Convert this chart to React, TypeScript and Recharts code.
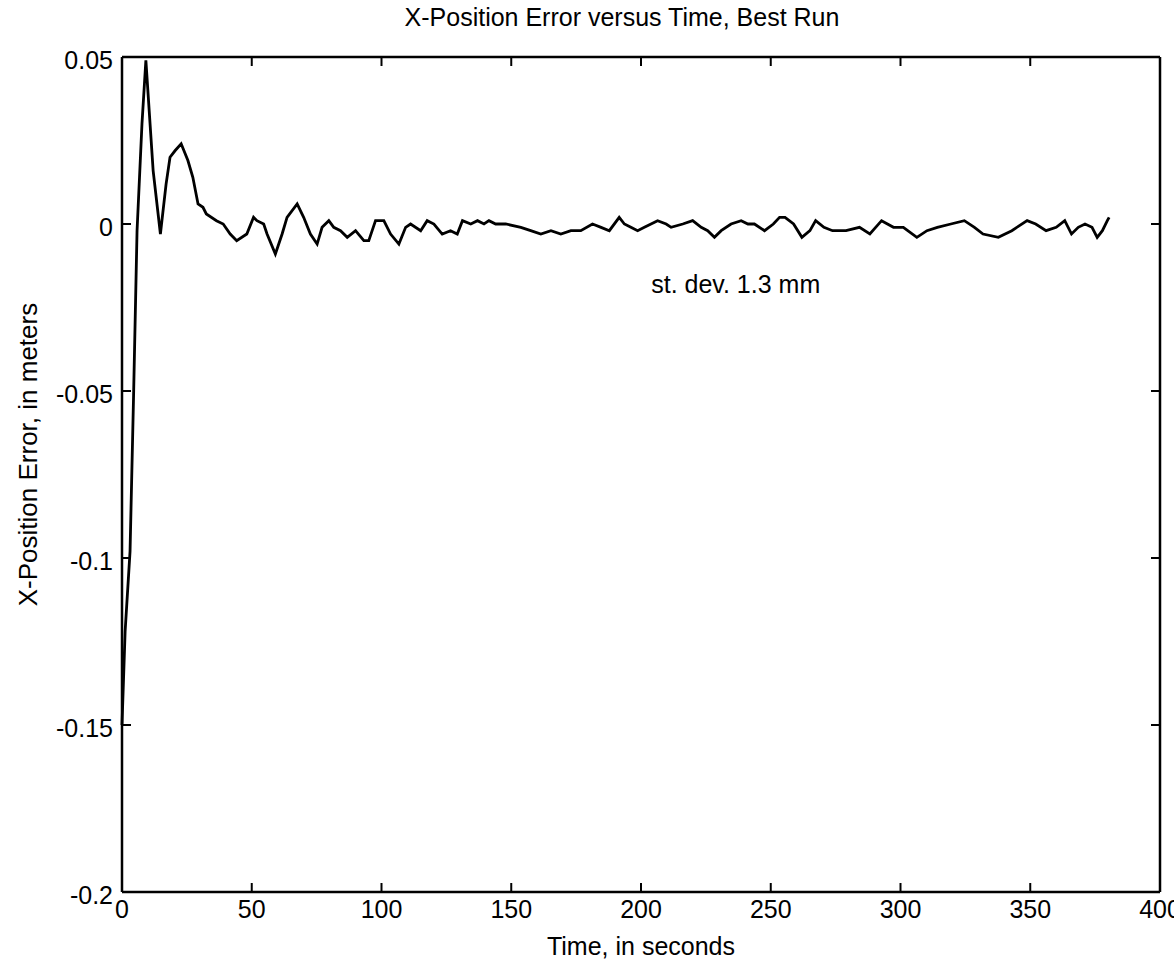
import { LineChart, Line, XAxis, YAxis, ReferenceDot } from "recharts";

// time in seconds and x-position error in meters
const time = [
  0, 1.2, 3.1, 4.5, 5.8, 7.7, 9.2, 12, 14.8, 17, 18.5, 20.5, 22.8, 25.4, 27.3,
  29.3, 31.2, 32.5, 36.4, 39, 41.7, 44.2, 48.1, 50.7, 52, 54.6, 55.9, 59.1,
  61.7, 63.6, 67.5, 70, 72.6, 75.2, 77.1, 79.7, 81.6, 84.2, 86.8, 90, 93.2,
  95.1, 97.7, 100.9, 103.5, 106.7, 109.3, 111.2, 115.1, 117.6, 120.2, 123.4,
  126.6, 129.2, 131.2, 134.4, 137, 139.5, 141.4, 144, 147.9, 153.7, 157.5,
  161.4, 165.3, 169.1, 173, 176.8, 181.3, 184.6, 187.8, 191.6, 193.6, 196.1,
  198.7, 201.3, 206.4, 209.7, 211.6, 216.1, 219.9, 223.2, 225.7, 228.3, 230.9,
  234.7, 238.6, 241.2, 243.7, 247.6, 251, 253.4, 255.5, 258.8, 262, 265.1,
  267.3, 270.5, 273.8, 279, 284.2, 288.2, 292.7, 297.3, 301.1, 306.3, 310.2,
  314.2, 319.4, 324.6, 328.5, 331.8, 337.7, 342.9, 348.8, 352.1, 356.1, 360,
  363.3, 365.9, 368.5, 371.1, 373.8, 375.8, 377.8, 379.7, 380.4,
];

const xError = [
  -0.15, -0.122, -0.098, -0.05, -0.002, 0.03, 0.049, 0.016, -0.003, 0.012,
  0.02, 0.022, 0.024, 0.019, 0.014, 0.006, 0.005, 0.003, 0.001, 0.0, -0.003,
  -0.005, -0.003, 0.002, 0.001, 0.0, -0.003, -0.009, -0.003, 0.002, 0.006,
  0.002, -0.003, -0.006, -0.001, 0.001, -0.001, -0.002, -0.004, -0.002,
  -0.005, -0.005, 0.001, 0.001, -0.003, -0.006, -0.001, 0.0, -0.002, 0.001,
  0.0, -0.003, -0.002, -0.003, 0.001, 0.0, 0.001, 0.0, 0.001, 0.0, 0.0,
  -0.001, -0.002, -0.003, -0.002, -0.003, -0.002, -0.002, 0.0, -0.001,
  -0.002, 0.002, 0.0, -0.001, -0.002, -0.001, 0.001, 0.0, -0.001, 0.0, 0.001,
  -0.001, -0.002, -0.004, -0.002, 0.0, 0.001, 0.0, 0.0, -0.002, 0.0, 0.002,
  0.002, 0.0, -0.004, -0.002, 0.001, -0.001, -0.002, -0.002, -0.001, -0.003,
  0.001, -0.001, -0.001, -0.004, -0.002, -0.001, 0.0, 0.001, -0.001, -0.003,
  -0.004, -0.002, 0.001, 0.0, -0.002, -0.001, 0.001, -0.003, -0.001, 0.0,
  -0.001, -0.004, -0.002, 0.001, 0.002,
];

const xTicks = [0, 50, 100, 150, 200, 250, 300, 350, 400];
const yTicks = [0.05, 0, -0.05, -0.1, -0.15, -0.2];

const note = { t: 236.5, v: -0.018, text: "st. dev. 1.3 mm" };

const data = time.map((t, i) => ({ t, err: xError[i] }));

const FONT = "'Liberation Sans', Arial, Helvetica, sans-serif";
const TICK_LEN = 9;
const GAP = 16;
// recharts puts the tick label tickSize + tickMargin away from the axis line
const OFF = GAP + 1;

// ticks drawn inward, MATLAB style
const BottomTick = (p: any) => {
  const axisY = p.y - OFF;
  return (
    <g>
      <line x1={p.x} x2={p.x} y1={axisY} y2={axisY - TICK_LEN} stroke="#000" strokeWidth={2} />
      <text x={p.x} y={axisY + 8} dy="0.71em" textAnchor="middle" fontSize={25} fontFamily={FONT} fill="#000">
        {p.payload.value}
      </text>
    </g>
  );
};

const LeftTick = (p: any) => {
  const axisX = p.x + OFF;
  return (
    <g>
      <line x1={axisX} x2={axisX + TICK_LEN} y1={p.y} y2={p.y} stroke="#000" strokeWidth={2} />
      <text x={axisX - 9} y={p.y + 3} dy="0.355em" textAnchor="end" fontSize={25} fontFamily={FONT} fill="#000">
        {p.payload.value}
      </text>
    </g>
  );
};

const TopTick = (p: any) => {
  const axisY = p.y + OFF;
  return <line x1={p.x} x2={p.x} y1={axisY} y2={axisY + TICK_LEN} stroke="#000" strokeWidth={2} />;
};

const RightTick = (p: any) => {
  const axisX = p.x - OFF;
  return <line x1={axisX} x2={axisX - TICK_LEN} y1={p.y} y2={p.y} stroke="#000" strokeWidth={2} />;
};

const YTitle = (props: any) => {
  const vb = props.viewBox || { x: 0, y: 57, width: 122, height: 835 };
  const cx = vb.x + 28;
  const cy = vb.y + vb.height / 2 - 20;
  return (
    <text
      x={cx}
      y={cy}
      transform={`rotate(-90, ${cx}, ${cy})`}
      textAnchor="middle"
      dominantBaseline="central"
      fontSize={26}
      fontFamily={FONT}
      fill="#000"
    >
      X-Position Error, in meters
    </text>
  );
};

const App = () => {
  return (
    <div style={{ position: "absolute", left: 0, top: 0, width: 1174, height: 966, background: "#fff" }}>
      <div
        style={{
          position: "absolute",
          left: 622,
          top: 3,
          transform: "translateX(-50%)",
          whiteSpace: "nowrap",
          fontFamily: FONT,
          fontSize: 25,
          lineHeight: "28px",
          color: "#000",
        }}
      >
        X-Position Error versus Time, Best Run
      </div>
      <LineChart
        width={1174}
        height={966}
        data={data}
        margin={{ top: 56, right: 13, bottom: 0, left: 0 }}
      >
        <XAxis
          xAxisId="bottom"
          type="number"
          dataKey="t"
          domain={[0, 400]}
          ticks={xTicks}
          height={74}
          stroke="#000"
          strokeWidth={2.5}
          tickLine={false}
          tickSize={1}
          tickMargin={GAP}
          tick={<BottomTick />}
          label={{ value: "Time, in seconds", position: "insideBottom", offset: 11, fontSize: 25, fill: "#000", fontFamily: FONT }}
        />
        <XAxis
          xAxisId="top"
          orientation="top"
          type="number"
          dataKey="t"
          domain={[0, 400]}
          ticks={xTicks}
          height={1}
          stroke="#000"
          strokeWidth={2.5}
          tickLine={false}
          tickSize={1}
          tickMargin={GAP}
          tick={<TopTick />}
        />
        <YAxis
          yAxisId="left"
          type="number"
          domain={[-0.2, 0.05]}
          ticks={yTicks}
          allowDataOverflow
          width={122}
          stroke="#000"
          strokeWidth={2.5}
          tickLine={false}
          tickSize={1}
          tickMargin={GAP}
          tick={<LeftTick />}
          label={{ content: YTitle }}
        />
        <YAxis
          yAxisId="right"
          orientation="right"
          type="number"
          domain={[-0.2, 0.05]}
          ticks={yTicks}
          allowDataOverflow
          width={1}
          stroke="#000"
          strokeWidth={2.5}
          tickLine={false}
          tickSize={1}
          tickMargin={GAP}
          tick={<RightTick />}
        />
        <Line
          xAxisId="bottom"
          yAxisId="left"
          type="linear"
          dataKey="err"
          stroke="#000"
          strokeWidth={2.8}
          dot={false}
          isAnimationActive={false}
        />
        <ReferenceDot
          xAxisId="bottom"
          yAxisId="left"
          x={note.t}
          y={note.v}
          r={0}
          fill="none"
          stroke="none"
          label={{ value: note.text, position: "center", fontSize: 25, fill: "#000", fontFamily: FONT }}
        />
      </LineChart>
    </div>
  );
};

export default App;
